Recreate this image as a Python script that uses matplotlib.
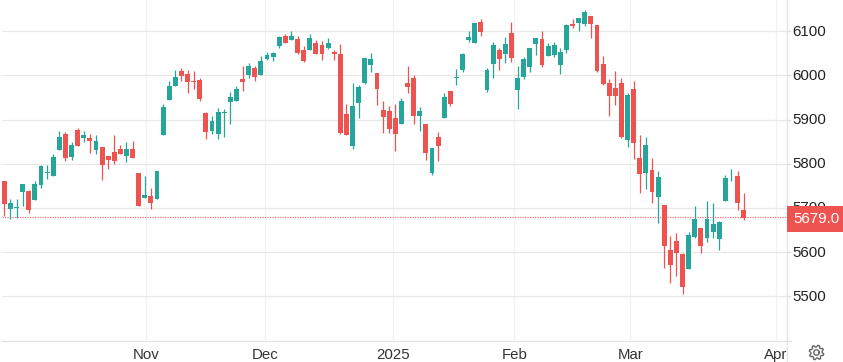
import numpy as np
import matplotlib
matplotlib.use("Agg")
import matplotlib.pyplot as plt
from matplotlib.patches import Polygon, Rectangle
from matplotlib.transforms import Bbox, ScaledTranslation

plt.rcParams['font.family'] = ['Liberation Sans', 'DejaVu Sans']

# daily candles
opens = [5760, 5698.5, 5699, 5737, 5739, 5719, 5751, 5778, 5773, 5830,
         5868, 5816, 5877, 5859, 5859, 5832, 5837, 5818.5, 5827.5, 5834,
         5818.5, 5834, 5778, 5723, 5726, 5721, 5864, 5945, 5975, 6010,
         6004, 5986, 5990.5, 5913.6, 5873, 5868, 5913.6, 5938.5, 5943, 5991.7,
         5999.6, 6015.5, 6000.8, 6037, 6041.7, 6066.7, 6089, 6080, 6082.6, 6057.6,
         6057.6, 6073.5, 6069, 6062, 6053, 6048.5, 5912, 5839.4, 5937, 5982.6,
         6023.5, 6005.3, 5921, 5919, 5903, 5889.4, 5982.6, 5994, 5907.6, 5889.4,
         5780, 5860, 5903, 5964.4, 5995, 6012, 6080.3, 6073.5, 6121, 5966.7,
         6025.8, 6057.6, 6048.5, 6096, 5966.7, 5996, 6019, 6071, 6082.6, 6044,
         6046, 6023.5, 6057.6, 6116.7, 6119, 6116.7, 6135, 6114.4, 6025.8, 5982.6,
         5971, 5982.6, 5853, 5969, 5813, 5779, 5785.8, 5724.7, 5706.6, 5605,
         5625, 5596, 5562, 5634, 5654.6, 5632, 5645.5, 5630, 5715.7, 5775.8,
         5772, 5695, 5680]
closes = [5708, 5712, 5701, 5753, 5696, 5753, 5794, 5782, 5816, 5861.5,
          5814, 5843, 5841, 5866, 5852, 5852, 5796, 5809, 5807, 5823,
          5834, 5812, 5705, 5730, 5712, 5784.5, 5929, 5975, 5997, 5998.5,
          5984, 5984, 5947.5, 5870.6, 5895.5, 5918, 5918, 5950, 5970, 5984.8,
          6022, 5997, 6032.6, 6046, 6050.8, 6087, 6073.5, 6089, 6050.8, 6032.6,
          6084.8, 6048.5, 6048.5, 6073.5, 6048.5, 5869, 5864, 5930, 5973.5, 6039.4,
          6037, 5969, 5905, 5878, 5866.7, 5941.7, 5973.5, 5907.6, 5919, 5823.5,
          5835, 5839.4, 5950.8, 5934.8, 5996, 6048.5, 6087, 6119, 6098.5, 6012,
          6069, 6037, 6071, 6039.4, 5994, 6037, 6062, 6084.8, 6023.5, 6066.7,
          6069, 6053, 6114.4, 6112, 6130.3, 6144, 6116.7, 6009.8, 5980.3, 5953,
          5953, 5860, 5955.3, 5846, 5776.8, 5842.4, 5736, 5770, 5614, 5571,
          5598, 5521, 5639, 5675, 5614, 5675, 5663.6, 5668, 5767.7, 5777,
          5711, 5677, 5679]
highs = [5760, 5721, 5721, 5755, 5741.5, 5760, 5798, 5796, 5823, 5873,
         5871, 5848, 5880, 5873, 5868, 5864, 5837, 5818.5, 5864, 5843,
         5848, 5852, 5778, 5773, 5744, 5784.5, 5936, 5986, 6013, 6016.7,
         6011, 6009, 5995, 5916, 5909, 5925, 5923, 5963, 5975, 6021,
         6027, 6022, 6044, 6053, 6053, 6089, 6094, 6100.7, 6089, 6066.7,
         6094, 6080, 6078, 6084.8, 6057.6, 6071, 5935, 5982.6, 5978, 6039.4,
         6050.8, 6005.3, 5941.7, 5930, 5935, 5948.5, 6021, 6000.8, 5928, 5889.4,
         5835, 5871, 5960, 5964.4, 6014.4, 6050.8, 6100.8, 6119, 6128, 6016.7,
         6075.8, 6062, 6087, 6121, 6021, 6041.7, 6062, 6084.8, 6100.8, 6073.5,
         6075.8, 6062, 6116.7, 6128, 6130.3, 6148.5, 6135, 6114.4, 6044, 5991.7,
         6009.8, 5994, 5960, 5987, 5865, 5860.5, 5813, 5783.6, 5706.6, 5636.5,
         5643, 5598, 5645.5, 5704, 5654.6, 5715.7, 5711, 5670.4, 5774.5, 5788,
         5783.6, 5733.8, 5680]
lows = [5681, 5676, 5678, 5705, 5689, 5717, 5746, 5766, 5773, 5830,
        5805, 5809, 5841, 5848, 5825, 5823, 5764, 5787, 5800, 5823,
        5803, 5812, 5705, 5723, 5698.5, 5721, 5864, 5945, 5975, 5987,
        5961, 5968, 5943, 5855, 5868, 5857, 5861.5, 5889, 5943, 5964,
        5993, 5986, 6000, 6035, 6032.6, 6062, 6073.5, 6080, 6048.5, 6030,
        6057.6, 6048.5, 6035, 6060, 6035, 5867, 5864, 5832.6, 5903, 5980,
        6007.6, 5932.6, 5869, 5869, 5828, 5889.4, 5960, 5889.4, 5873.5, 5807.6,
        5773.5, 5805, 5903, 5930, 5978, 6007.6, 6075.8, 6073.5, 6089.4, 5962,
        5994, 6012, 6028, 6030, 5923.5, 5991.7, 6007.6, 6046, 6019, 6044,
        6041.7, 6003, 6050.8, 6107.6, 6100.8, 6112, 6084.8, 6007.6, 5978, 5907.6,
        5932.6, 5857.6, 5837, 5810, 5733.8, 5742.8, 5711, 5666, 5564, 5530,
        5546, 5505, 5562, 5632, 5598, 5623, 5632, 5605, 5715.7, 5761,
        5695, 5672.7, 5679]

last_price = 5679
price_ticks = [5500, 5600, 5700, 5800, 5900, 6000, 6100]
month_labels = ['Nov', 'Dec', '2025', 'Feb', 'Mar', 'Apr']
month_pos = [23.14, 42.7, 63.66, 83.47, 102.45, 126.26]

UP = '#26a69a'
DOWN = '#ef5350'
AXIS = '#e2e2e2'
W, H = 843, 362

fig = plt.figure(figsize=(W / 100, H / 100), dpi=100, facecolor='white')
ax = fig.add_axes([2 / W, 1 - 340 / H, 785 / W, 340 / H])
ax.set_xlim(-0.376, 128.1)
ax.set_ylim(5401.1, 6170.4)

o = np.array(opens)
c = np.array(closes)
idx = np.arange(len(o))
colors = [UP if b >= a else DOWN for a, b in zip(o, c)]

# grid
ax.set_axisbelow(True)
ax.set_yticks(price_ticks)
ax.set_xticks(month_pos)
ax.set_xticklabels(month_labels)
ax.grid(axis='y', color='#e8e8e8', lw=0.9)
ax.grid(axis='x', color='#f0f3f5', lw=0.9)

# candles
ax.vlines(idx, lows, highs, colors=colors, lw=0.9, zorder=3)
ax.bar(idx, np.maximum(np.abs(c - o), 1.5), bottom=np.minimum(o, c), width=0.8,
       color=colors, lw=0, zorder=3)

# last price line
ax.axhline(last_price, color=DOWN, lw=0.9, ls=(0, (1, 1)), alpha=0.8, zorder=2)

for s in ['top', 'left', 'right', 'bottom']:
    ax.spines[s].set_visible(False)

ax.yaxis.tick_right()
ax.tick_params(axis='y', length=2.9, width=0.9, color=AXIS, labelsize=10.8,
               labelcolor='#222222', pad=0.8)
ax.tick_params(axis='x', length=0, labelsize=10.8, labelcolor='#333333', pad=6)

# nudge labels by a pixel, Apr gets cut off by the price pane
up_1px = ScaledTranslation(0, 1 / 100, fig.dpi_scale_trans)
for lab in ax.get_yticklabels():
    lab.set_transform(lab.get_transform() + up_1px)
for lab in ax.get_xticklabels():
    lab.set_clip_box(Bbox([[0, 0], [786.5, H]]))
    lab.set_clip_on(True)

# pane borders
fig.add_artist(plt.Line2D([787 / W, 787 / W], [0, 1], color=AXIS, lw=0.9,
                          transform=fig.transFigure))
fig.add_artist(plt.Line2D([2 / W, 791 / W], [1 - 340.5 / H, 1 - 340.5 / H], color=AXIS, lw=0.9,
                          transform=fig.transFigure))

# price tag on the axis
fig.add_artist(Rectangle((787 / W, 1 - 232 / H), 56 / W, 26 / H, transform=fig.transFigure,
                         facecolor=DOWN, edgecolor='none', zorder=5))
fig.text(816.5 / W, 1 - 219.3 / H, '5679.0', color='white', fontsize=10.8, ha='center',
         va='center', zorder=6)

# settings gear
cx, cy, r1, r2 = 816.5, 352.5, 7.3, 5.6
angles = np.linspace(0, 2 * np.pi, 8 * 4, endpoint=False) + np.pi / 16
radii = np.tile([r1, r1, r2, r2], 8)
pts = np.c_[(cx + radii * np.cos(angles)) / W, 1 - (cy + radii * np.sin(angles)) / H]
fig.add_artist(Polygon(pts, closed=True, fill=False, edgecolor='#666666', lw=1.0,
                       transform=fig.transFigure, zorder=5))
theta = np.linspace(0, 6.3, 40)
fig.add_artist(plt.Line2D((cx + 2.7 * np.cos(theta)) / W, 1 - (cy + 2.7 * np.sin(theta)) / H,
                          color='#666666', lw=1.0, transform=fig.transFigure, zorder=5))

fig.savefig('out.png', dpi=100)
